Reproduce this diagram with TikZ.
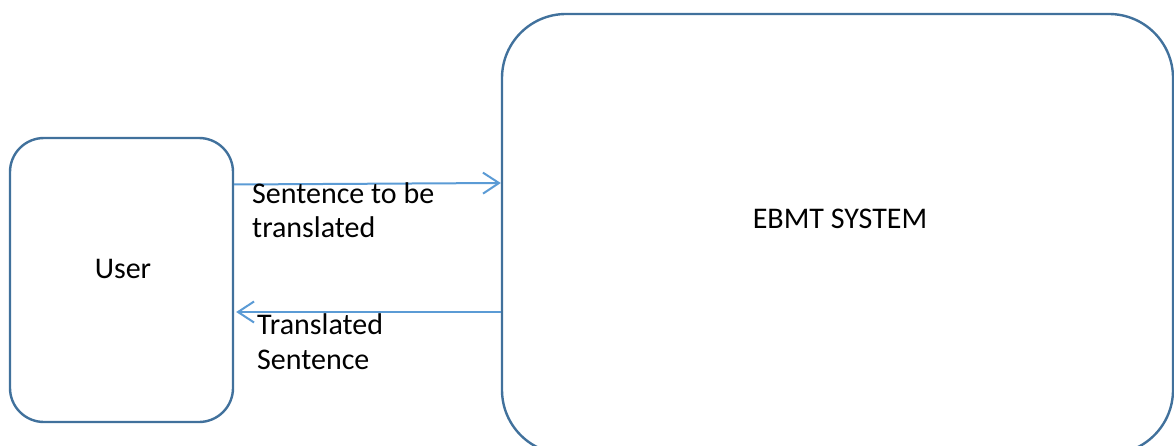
\documentclass[tikz,border=0pt]{standalone}
\usepackage{fontspec}
\setmainfont{Carlito}
\usetikzlibrary{arrows.meta}
\definecolor{boxline}{HTML}{41719C}
\definecolor{arrline}{HTML}{5B9BD5}
\begin{document}
\begin{tikzpicture}[x=1pt,y=-1pt,
  sysbox/.style={draw=boxline,line width=2.4pt,rectangle,inner sep=0pt},
  flow/.style={draw=arrline,line width=2pt,-{Straight Barb[length=16pt,width=21pt,line width=2pt]}},
  txt/.style={font=\fontsize{30}{35}\selectfont,inner sep=0pt,align=left,text=black}]
\useasboundingbox (0,0) rectangle (1174,446);
\clip (0,0) rectangle (1174,446);
\node[sysbox,minimum width=223pt,minimum height=284pt,rounded corners=34pt] (user) at (121.5,280) {};
\node[sysbox,minimum width=671pt,minimum height=440pt,rounded corners=64pt] (ebmt) at (837.5,234) {};
\node[txt,anchor=base] (usertxt) at (123,278) {User};
\node[txt,anchor=base] (ebmttxt) at (840,229) {EBMT SYSTEM};
\draw[flow] ([yshift=95.5pt]user.east) -- ([yshift=51pt]ebmt.west);
\draw[flow] ([yshift=-78pt]ebmt.west) -- ([yshift=-32pt,xshift=2pt]user.east);
\node[txt,anchor=base west] (sent) at (252,238) {Sentence to be\\translated};
\node[txt,anchor=base west] (trans) at (257,369) {Translated\\Sentence};
\end{tikzpicture}
\end{document}
